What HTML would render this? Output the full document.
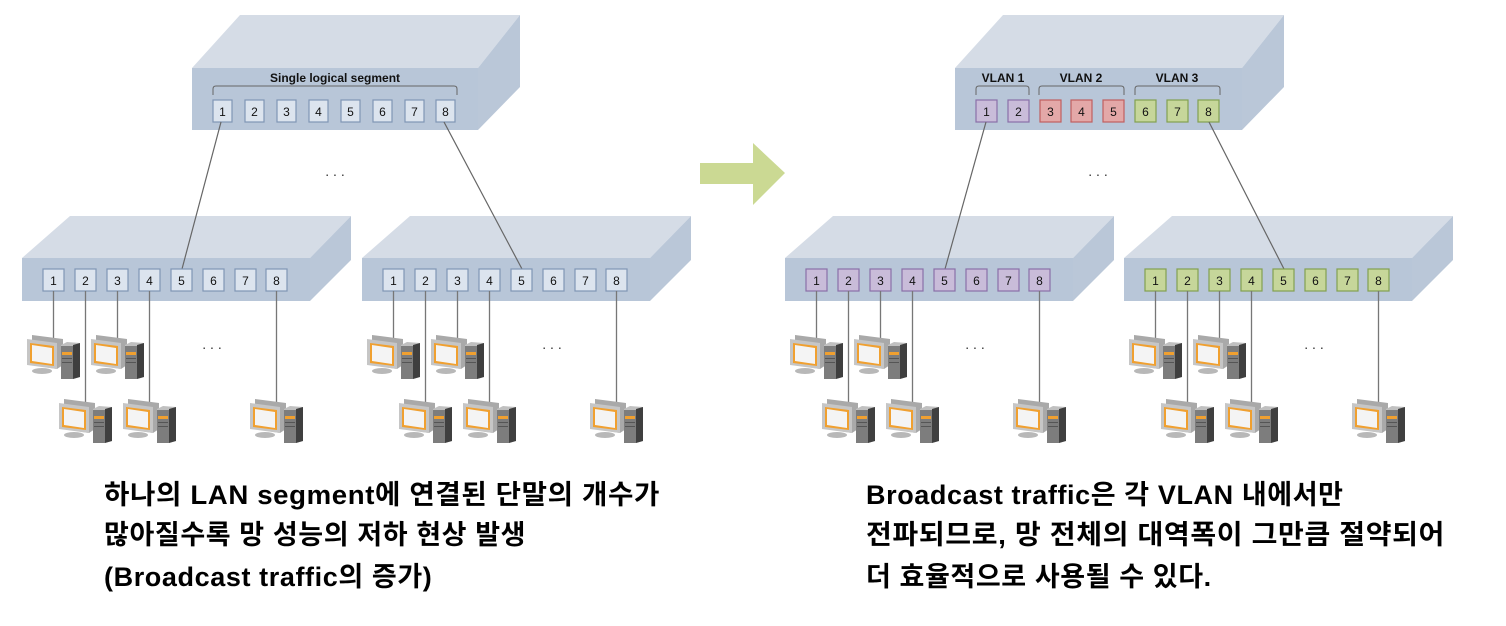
<!DOCTYPE html>
<html><head><meta charset="utf-8"><style>
body{margin:0;background:#fff;}
svg{display:block}
.t{font-family:"Liberation Sans","Noto Sans CJK KR",sans-serif;}
</style></head><body>
<svg width="1506" height="626" viewBox="0 0 1506 626" xmlns="http://www.w3.org/2000/svg">
<defs>
<g id="pc">
  <polygon points="5,0 36,4 36,30 30,34 5,30" fill="#a9a9a9"/>
  <polygon points="0,4 30,8 30,34 0,30" fill="#c6c6c6"/>
  <polygon points="3,8 27,11 27,31 3,28" fill="#f0a030"/>
  <polygon points="5,10 25,13 25,29 5,26" fill="#f4f4f4"/>
  <ellipse cx="15" cy="36" rx="10" ry="3" fill="#b8b8b8"/>
  <polygon points="34,10 40,7 53,8 53,42 46,44 34,43" fill="#c0c0c0"/>
  <polygon points="46,10 53,8 53,42 46,44" fill="#3f3f3f"/>
  <rect x="34" y="11" width="12" height="33" fill="#7d7d7d"/>
  <rect x="35" y="17" width="10" height="3" fill="#f0a030"/>
  <rect x="35" y="23" width="10" height="1" fill="#555"/>
  <rect x="35" y="27" width="10" height="1" fill="#555"/>
</g>
</defs>

<!-- arrow -->
<polygon points="700,163 753,163 753,143 785,173 753,205 753,184 700,184" fill="#cbd993"/>

<!-- top-left switch -->
<polygon points="192,68 240,15 520,15 478,68" fill="#d5dce6"/>
<polygon points="478,68 520,15 520,87 478,130" fill="#bac7d8"/>
<rect x="192" y="68" width="286" height="62" fill="#b8c6d8"/>
<text x="335" y="82" class="t" font-size="12" font-weight="bold" text-anchor="middle" fill="#111">Single logical segment</text>
<path d="M213,95 V89 Q213,86 216,86 H454 Q457,86 457,89 V95" fill="none" stroke="#666" stroke-width="1"/>
<g class="t" font-size="12" text-anchor="middle" fill="#111">
<g fill="#dce4ee" stroke="#7f96b5" stroke-width="1.2">
<rect x="213" y="100" width="19" height="22"/><rect x="245" y="100" width="19" height="22"/><rect x="277" y="100" width="19" height="22"/><rect x="309" y="100" width="19" height="22"/><rect x="341" y="100" width="19" height="22"/><rect x="373" y="100" width="19" height="22"/><rect x="405" y="100" width="19" height="22"/><rect x="436" y="100" width="19" height="22"/>
</g>
<text x="222.5" y="116">1</text><text x="254.5" y="116">2</text><text x="286.5" y="116">3</text><text x="318.5" y="116">4</text><text x="350.5" y="116">5</text><text x="382.5" y="116">6</text><text x="414.5" y="116">7</text><text x="445.5" y="116">8</text>
</g>

<!-- top-right switch -->
<polygon points="955,68 1003,15 1284,15 1242,68" fill="#d5dce6"/>
<polygon points="1242,68 1284,15 1284,87 1242,130" fill="#bac7d8"/>
<rect x="955" y="68" width="287" height="62" fill="#b8c6d8"/>
<g class="t" font-size="12" font-weight="bold" text-anchor="middle" fill="#111">
<text x="1003" y="82">VLAN 1</text><text x="1081" y="82">VLAN 2</text><text x="1177" y="82">VLAN 3</text>
</g>
<g fill="none" stroke="#666" stroke-width="1">
<path d="M976,95 V89 Q976,86 979,86 H1026 Q1029,86 1029,89 V95"/>
<path d="M1039,95 V89 Q1039,86 1042,86 H1121 Q1124,86 1124,89 V95"/>
<path d="M1135,95 V89 Q1135,86 1138,86 H1217 Q1220,86 1220,89 V95"/>
</g>
<g stroke-width="1.2">
<rect x="976" y="100" width="21" height="22" fill="#c9bcd9" stroke="#8a70a8"/><rect x="1008" y="100" width="21" height="22" fill="#c9bcd9" stroke="#8a70a8"/>
<rect x="1040" y="100" width="21" height="22" fill="#e3a8a8" stroke="#c06060"/><rect x="1071" y="100" width="21" height="22" fill="#e3a8a8" stroke="#c06060"/><rect x="1103" y="100" width="21" height="22" fill="#e3a8a8" stroke="#c06060"/>
<rect x="1135" y="100" width="21" height="22" fill="#c6d69a" stroke="#82a050"/><rect x="1167" y="100" width="21" height="22" fill="#c6d69a" stroke="#82a050"/><rect x="1198" y="100" width="21" height="22" fill="#c6d69a" stroke="#82a050"/>
</g>
<g class="t" font-size="12" text-anchor="middle" fill="#111">
<text x="986.5" y="116">1</text><text x="1018.5" y="116">2</text><text x="1050.5" y="116">3</text><text x="1081.5" y="116">4</text><text x="1113.5" y="116">5</text><text x="1145.5" y="116">6</text><text x="1177.5" y="116">7</text><text x="1208.5" y="116">8</text>
</g>

<!-- bottom switches -->
<g id="sw1">
<polygon points="22,258 70,216 351,216 310,258" fill="#d5dce6"/>
<polygon points="310,258 351,216 351,260 310,301" fill="#bac7d8"/>
<rect x="22" y="258" width="288" height="43" fill="#b8c6d8"/>
</g>
<use href="#sw1" x="340"/>
<use href="#sw1" x="763"/>
<use href="#sw1" x="1102"/>

<g stroke="#666" stroke-width="1.2">
<line x1="221" y1="122" x2="182" y2="269"/>
<line x1="444" y1="122" x2="522" y2="269"/>
<line x1="986" y1="122" x2="945" y2="269"/>
<line x1="1209" y1="122" x2="1284" y2="269"/>
</g>

<g id="pl" stroke="#7f96b5" fill="#dce4ee" stroke-width="1.2">
<rect x="43" y="269" width="21" height="22"/><rect x="75" y="269" width="21" height="22"/><rect x="107" y="269" width="21" height="22"/><rect x="139" y="269" width="21" height="22"/><rect x="171" y="269" width="21" height="22"/><rect x="203" y="269" width="21" height="22"/><rect x="235" y="269" width="21" height="22"/><rect x="266" y="269" width="21" height="22"/>
</g>
<use href="#pl" x="340"/>
<g stroke="#8a70a8" fill="#c9bcd9" stroke-width="1.2" transform="translate(763,0)">
<rect x="43" y="269" width="21" height="22"/><rect x="75" y="269" width="21" height="22"/><rect x="107" y="269" width="21" height="22"/><rect x="139" y="269" width="21" height="22"/><rect x="171" y="269" width="21" height="22"/><rect x="203" y="269" width="21" height="22"/><rect x="235" y="269" width="21" height="22"/><rect x="266" y="269" width="21" height="22"/>
</g>
<g stroke="#82a050" fill="#c6d69a" stroke-width="1.2" transform="translate(1102,0)">
<rect x="43" y="269" width="21" height="22"/><rect x="75" y="269" width="21" height="22"/><rect x="107" y="269" width="21" height="22"/><rect x="139" y="269" width="21" height="22"/><rect x="171" y="269" width="21" height="22"/><rect x="203" y="269" width="21" height="22"/><rect x="235" y="269" width="21" height="22"/><rect x="266" y="269" width="21" height="22"/>
</g>

<g id="grp">
<g class="t" font-size="12" text-anchor="middle" fill="#111">
<text x="53.5" y="285">1</text><text x="85.5" y="285">2</text><text x="117.5" y="285">3</text><text x="149.5" y="285">4</text><text x="181.5" y="285">5</text><text x="213.5" y="285">6</text><text x="245.5" y="285">7</text><text x="276.5" y="285">8</text>
</g>
<g stroke="#777" stroke-width="1.3">
<line x1="53.5" y1="291" x2="53.5" y2="338"/>
<line x1="117.5" y1="291" x2="117.5" y2="338"/>
<line x1="85.5" y1="291" x2="85.5" y2="402"/>
<line x1="149.5" y1="291" x2="149.5" y2="402"/>
<line x1="276.5" y1="291" x2="276.5" y2="402"/>
</g>
<use href="#pc" x="27" y="335"/>
<use href="#pc" x="91" y="335"/>
<use href="#pc" x="59" y="399"/>
<use href="#pc" x="123" y="399"/>
<use href="#pc" x="250" y="399"/>
<text x="212" y="349" class="t" font-size="14" text-anchor="middle" fill="#333">. . .</text>
</g>
<use href="#grp" x="340"/>
<use href="#grp" x="763"/>
<use href="#grp" x="1102"/>

<text x="335" y="176" class="t" font-size="14" text-anchor="middle" fill="#333">. . .</text>
<text x="1098" y="176" class="t" font-size="14" text-anchor="middle" fill="#333">. . .</text>

<g class="t" font-size="27" fill="#000" font-weight="bold" letter-spacing="0.6">
<text x="104" y="504" textLength="556" lengthAdjust="spacingAndGlyphs">하나의 LAN segment에 연결된 단말의 개수가</text>
<text x="104" y="544">많아질수록 망 성능의 저하 현상 발생</text>
<text x="104" y="586">(Broadcast traffic의 증가)</text>
<text x="866" y="504">Broadcast traffic은 각 VLAN 내에서만</text>
<text x="866" y="544" textLength="579" lengthAdjust="spacingAndGlyphs">전파되므로, 망 전체의 대역폭이 그만큼 절약되어</text>
<text x="866" y="586">더 효율적으로 사용될 수 있다.</text>
</g>
</svg>
</body></html>
